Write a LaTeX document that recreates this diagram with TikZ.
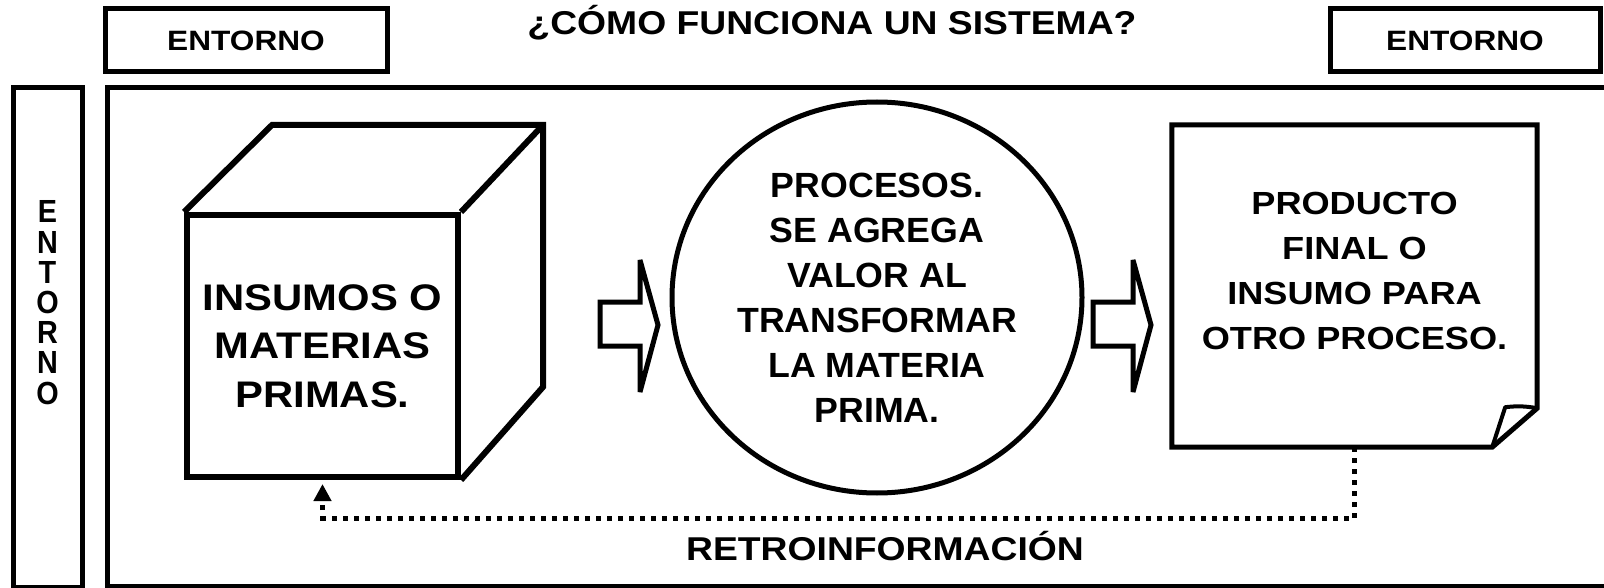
\documentclass[tikz,border=0pt]{standalone}
\usepackage{fontspec}
\setmainfont{Liberation Sans}[FakeStretch=1.13]
\newfontfamily\circfont{Liberation Sans}[FakeStretch=1.02]
\newfontfamily\vertfont{Liberation Sans}[FakeStretch=0.9]
\usetikzlibrary{arrows.meta,shapes.geometric}
\begin{document}
\begin{tikzpicture}[x=1pt,y=-1pt,
  frame/.style={draw=black,line width=5pt},
  envbox/.style={frame,inner sep=0pt,font=\fontsize{28}{30}\selectfont\bfseries},
  bigtext/.style={inner sep=0pt,align=center},
  blockarrow/.style={draw=black,fill=white,line width=5pt,line join=miter,miter limit=5},
  fbline/.style={draw=black,line width=5pt,dash pattern=on 5pt off 6pt,
     -{Triangle[width=17pt,length=17pt]},shorten >=4pt},
  cubeline/.style={draw=black,line width=6pt,line join=miter}]
\fill[white] (0,0) rectangle (1604,588);
\useasboundingbox (0,0) rectangle (1604,588);

% environment boxes and title
\node[envbox,minimum width=282pt,minimum height=63pt] (envTL) at (246,40.5) {ENTORNO};
\node[envbox,minimum width=270pt,minimum height=63pt] (envTR) at (1465,40.5) {ENTORNO};
\node[inner sep=0pt,anchor=base,font=\fontsize{33}{36}\selectfont\bfseries] (title) at (832,35) {¿CÓMO FUNCIONA UN SISTEMA?};
\node[frame,inner sep=0pt,minimum width=69pt,minimum height=499pt] (envV) at (47.5,337.5) {};
\node[bigtext,font=\vertfont\fontsize{32}{30.2}\selectfont\bfseries] (envVt) at (47.5,302.7) {E\\N\\T\\O\\R\\N\\O};

% system frame
\draw[frame] (107,88) rectangle (1625,586);

% cube (inputs)
\node[cubeline,bigtext,minimum width=271pt,minimum height=262pt,
  font=\fontsize{37}{48.5}\selectfont\bfseries] (cube) at (322.5,346) {INSUMOS O\\MATERIAS\\PRIMAS.};
\draw[cubeline] (cube.north west) -- ++(88,-87) -- ++(271,0) coordinate (cbk) -- ++(0,262) -- (cube.south east);
\draw[cubeline] (cube.north east) -- (cbk);

% process ellipse
\node[draw=black,line width=5pt,ellipse,minimum width=410pt,minimum height=391pt,bigtext,
  font=\circfont\fontsize{35}{45}\selectfont\bfseries] (proc) at (877,297.5)
  {PROCESOS.\\SE AGREGA\\VALOR AL\\TRANSFORMAR\\LA MATERIA\\PRIMA.};

% block arrows
\coordinate (a1) at (600,302);
\coordinate (a2) at (1093,302);
\foreach \p in {a1,a2}{
  \draw[blockarrow] (\p) -- ++(40,0) -- ++(0,-42) -- ++(18,65) -- ++(-18,67) -- ++(0,-46) -- ++(-40,0) -- cycle;
}

% product (document with folded corner)
\node[inner sep=0pt,minimum width=365pt,minimum height=322pt] (prod) at (1354.5,286) {};
\path (prod.south east) ++(0,-39) coordinate (f1);
\path (prod.south east) ++(-45,0) coordinate (f2);
\path (f2) ++(13,-40) coordinate (f3);
\draw[frame,line join=miter] (f1) -- (prod.north east) -- (prod.north west) -- (prod.south west) -- (f2) -- cycle;
\draw[draw=black,line width=4pt,line join=round] (f2) -- (f3) to[bend left=8] (f1);
\node[bigtext,font=\fontsize{32}{45}\selectfont\bfseries] (prodt) at (1354.5,271)
  {PRODUCTO\\FINAL O\\INSUMO PARA\\OTRO PROCESO.};

% feedback
\draw[fbline] (prod.south) -- ++(0,71) -| (cube.south);
\node[inner sep=0pt,anchor=base,font=\fontsize{33}{36}\selectfont\bfseries] (retro) at (885,560) {RETROINFORMACIÓN};
\end{tikzpicture}
\end{document}
